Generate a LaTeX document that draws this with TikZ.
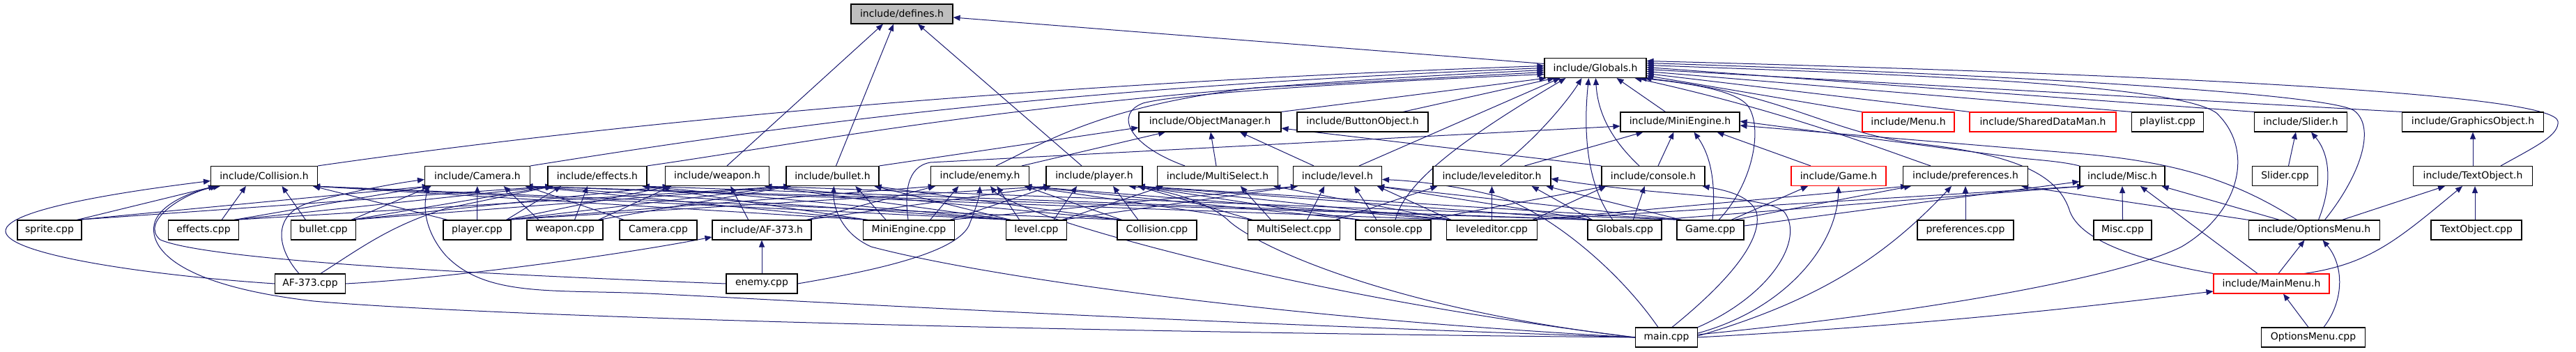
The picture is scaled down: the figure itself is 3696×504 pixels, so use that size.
\documentclass[tikz,border=0pt]{standalone}
\usepackage{fontspec}
\setmainfont{DejaVu Sans}
\usetikzlibrary{arrows.meta,calc}
\definecolor{edgeblue}{HTML}{191970}
\definecolor{boxgray}{HTML}{BFBFBF}
\pgfdeclarelayer{bg}
\pgfdeclarelayer{edges}
\pgfsetlayers{bg,edges,main}
\tikzset{
  box/.style={draw=black, line width=1.1pt, fill=white, minimum height=28pt, inner sep=0pt, font=\fontsize{14}{16}\selectfont},
  redbox/.style={box, draw=red},
  edge/.style={draw=edgeblue, line width=1pt, -{Triangle[length=10pt,width=8pt]}},
}
% child -> parent, spread on top/bottom edges
\newcommand\incl[3][]{\draw[edge,#1] let \p1=(#2.north), \p2=(#3.south), \p3=(#3.south east), \p4=(#2.north east),
  \n1={\x2-\x1}, \n2={\x3-\x2-7}, \n3={\x4-\x1-7} in
  ({\x1+max(-\n3,min(\n3,0.3*(\n1)))},\y1) -- ({\x2+max(-\n2,min(\n2,-0.3*(\n1)))},\y2);}
\begin{document}
\begin{tikzpicture}[x=1pt,y=1pt]
\useasboundingbox (0,0) rectangle (3696,504);
\begin{pgfonlayer}{bg}\fill[white] (0,0) rectangle (3696,504);\end{pgfonlayer}
% row 0
\node[box,fill=boxgray,minimum width=146pt] (defines) at (1294,484) {include/defines.h};
% row 1
\node[box,minimum width=146pt] (Globals) at (2289,406.5) {include/Globals.h};
% row 2
\node[box,minimum width=204pt] (ObjMgr) at (1736,329) {include/ObjectManager.h};
\node[box,minimum width=188pt] (Button) at (1955,329) {include/ButtonObject.h};
\node[box,minimum width=171pt] (MiniEh) at (2410.5,329) {include/MiniEngine.h};
\node[redbox,minimum width=132pt] (Menuh) at (2738,329) {include/Menu.h};
\node[redbox,minimum width=210pt] (Shared) at (2931,329) {include/SharedDataMan.h};
\node[box,minimum width=103pt] (playlist) at (3110,329) {playlist.cpp};
\node[box,minimum width=133pt] (Sliderh) at (3301,329) {include/Slider.h};
\node[box,minimum width=203pt] (GraphObj) at (3548,329) {include/GraphicsObject.h};
% row 3
\node[box,minimum width=153pt] (Collh) at (379,251.5) {include/Collision.h};
\node[box,minimum width=151pt] (Camh) at (685,251.5) {include/Camera.h};
\node[box,minimum width=142pt] (effh) at (857,251.5) {include/effects.h};
\node[box,minimum width=149pt] (weaph) at (1029,251.5) {include/weapon.h};
\node[box,minimum width=133pt] (bullh) at (1194.5,251.5) {include/bullet.h};
\node[box,minimum width=141pt] (enemyh) at (1406,251.5) {include/enemy.h};
\node[box,minimum width=138pt] (playerh) at (1570,251.5) {include/player.h};
\node[box,minimum width=173pt] (MSh) at (1747,251.5) {include/MultiSelect.h};
\node[box,minimum width=127pt] (levelh) at (1919,251.5) {include/level.h};
\node[box,minimum width=169pt] (ledh) at (2140.5,251.5) {include/leveleditor.h};
\node[box,minimum width=148pt] (consh) at (2372,251.5) {include/console.h};
\node[redbox,minimum width=136pt] (Gameh) at (2638,251.5) {include/Game.h};
\node[box,minimum width=179pt] (prefh) at (2820,251.5) {include/preferences.h};
\node[box,minimum width=122pt] (Misch) at (3045,251.5) {include/Misc.h};
\node[box,minimum width=94pt] (Slidercpp) at (3278.5,251.5) {Slider.cpp};
\node[box,minimum width=171pt] (TOh) at (3548,251.5) {include/TextObject.h};
% row 4
\node[box,minimum width=92pt] (spritecpp) at (71,174) {sprite.cpp};
\node[box,minimum width=101pt] (effcpp) at (292,174) {effects.cpp};
\node[box,minimum width=93pt] (bullcpp) at (464,174) {bullet.cpp};
\node[box,minimum width=97pt] (playercpp) at (684.5,174) {player.cpp};
\node[box,minimum width=109pt] (weapcpp) at (810.5,174) {weapon.cpp};
\node[box,minimum width=111pt] (Camcpp) at (944.5,174) {Camera.cpp};
\node[box,minimum width=142pt] (AFh) at (1093,174) {include/AF-373.h};
\node[box,minimum width=131pt] (MEcpp) at (1304,174) {MiniEngine.cpp};
\node[box,minimum width=87pt] (levelcpp) at (1487,174) {level.cpp};
\node[box,minimum width=114pt] (Collcpp) at (1660,174) {Collision.cpp};
\node[box,minimum width=132pt] (MScpp) at (1856.5,174) {MultiSelect.cpp};
\node[box,minimum width=108pt] (conscpp) at (1999,174) {console.cpp};
\node[box,minimum width=130pt] (ledcpp) at (2140.5,174) {leveleditor.cpp};
\node[box,minimum width=106pt] (Globcpp) at (2331,174) {Globals.cpp};
\node[box,minimum width=96pt] (Gamecpp) at (2454,174) {Game.cpp};
\node[box,minimum width=138pt] (prefcpp) at (2820,174) {preferences.cpp};
\node[box,minimum width=83pt] (Misccpp) at (3045.5,174) {Misc.cpp};
\node[box,minimum width=188pt] (OMh) at (3320.5,174) {include/OptionsMenu.h};
\node[box,minimum width=130pt] (TOcpp) at (3553,174) {TextObject.cpp};
% row 5
\node[box,minimum width=101pt] (AFcpp) at (445,97) {AF-373.cpp};
\node[box,minimum width=102pt] (enemycpp) at (1093,97) {enemy.cpp};
\node[redbox,minimum width=166pt] (MMh) at (3259,97) {include/MainMenu.h};
% row 6
\node[box,minimum width=89pt] (maincpp) at (2391,20) {main.cpp};
\node[box,minimum width=149pt] (OMcpp) at (3319,20) {OptionsMenu.cpp};

\begin{pgfonlayer}{edges}
% defines.h
\draw[edge] ([yshift=6pt]Globals.west) -- ([yshift=-5pt]defines.east);
\draw[edge] ([xshift=14pt]weaph.north) -- ([xshift=-27pt]defines.south);
\draw[edge] ([xshift=5pt]bullh.north) -- ([xshift=-12pt]defines.south);
\draw[edge] ([xshift=-18pt]playerh.north) -- ([xshift=23pt]defines.south);
% Globals.h from the left
\draw[edge] (Collh.north east) .. controls (900,330) and (1500,385) .. ([yshift=3pt]Globals.west);
\draw[edge] (Camh.north east) .. controls (1100,320) and (1500,378) .. ([yshift=0pt]Globals.west);
\draw[edge] (effh.north east) .. controls (1200,305) and (1500,370) .. ([yshift=-3pt]Globals.west);
\draw[edge] ([xshift=23pt]enemyh.north) .. controls (1500,300) and (1580,352) .. (1800,378) -- ([yshift=-6pt]Globals.west);
\draw[edge] ([xshift=-47pt]MSh.north) .. controls (1620,295) and (1598,340) .. (1640,356) .. controls (1700,372) and (2000,388) .. ([yshift=-9pt]Globals.west);
\draw[edge] (ObjMgr.north east) -- ([xshift=3pt]Globals.south west);
\draw[edge] ([xshift=58pt]Button.north) -- ([xshift=15pt]Globals.south west);
\draw[edge] ([xshift=31pt]levelh.north) -- ([xshift=23pt]Globals.south west);
\draw[edge] ([xshift=3pt]conscpp.north) .. controls (2015,240) and (2090,300) .. ([xshift=31pt]Globals.south west);
\draw[edge] ([xshift=12pt]ledh.north) .. controls (2200,300) and (2250,360) .. ([xshift=54pt]Globals.south west);
\draw[edge] ([xshift=-17pt]Globcpp.north) .. controls (2275,240) and (2272,320) .. ([xshift=64pt]Globals.south west);
\draw[edge] ([xshift=-20pt]consh.north) .. controls (2305,310) and (2292,350) .. ([xshift=74pt]Globals.south west);
\draw[edge] ([xshift=-21pt]MiniEh.north) -- ([xshift=-43pt]Globals.south east);
% Globals.h from the right
\draw[edge] ([xshift=40pt]TOh.north) .. controls (3640,295) and (3672,310) .. (3670,330) .. controls (3665,362) and (3300,392) .. ([yshift=10pt]Globals.east);
\draw[edge] ([xshift=15pt]OMh.north) .. controls (3385,250) and (3410,320) .. (3378,345) .. controls (3340,372) and (2800,400) .. ([yshift=7pt]Globals.east);
\draw[edge] ([yshift=4pt]maincpp.east) .. controls (2800,60) and (3050,110) .. (3130,150) .. controls (3215,200) and (3235,290) .. (3180,342) .. controls (3120,385) and (2700,398) .. ([yshift=4pt]Globals.east);
\draw[edge] (Sliderh.north west) -- ([yshift=1pt]Globals.east);
\draw[edge] (GraphObj.north west) -- ([yshift=-2pt]Globals.east);
\draw[edge] (playlist.north west) -- ([yshift=-5pt]Globals.east);
\draw[edge] (Shared.north west) -- ([yshift=-8pt]Globals.east);
\draw[edge] (Menuh.north west) -- ([yshift=-11pt]Globals.east);
\draw[edge] (MMh.north west) .. controls (3100,125) and (2990,150) .. (2970,200) .. controls (2955,250) and (2900,282) .. (2750,298) .. controls (2620,315) and (2560,370) .. ([xshift=-3pt]Globals.south east);
\draw[edge] ([xshift=12pt]Gamecpp.north) .. controls (2515,240) and (2530,320) .. (2508,352) .. controls (2490,375) and (2420,385) .. ([xshift=-10pt]Globals.south east);
\draw[edge] ([xshift=-50pt]prefh.north) .. controls (2700,290) and (2560,345) .. ([xshift=-17pt]Globals.south east);
% ObjectManager.h
\draw[edge] (bullh.north east) -- ([yshift=-8pt]ObjMgr.west);
\draw[edge] ([xshift=60pt]enemyh.north) -- ([xshift=-64pt]ObjMgr.south);
\draw[edge] ([xshift=-2pt]MSh.north) -- ([xshift=1pt]ObjMgr.south);
\draw[edge] ([xshift=-34pt]levelh.north) -- ([xshift=43pt]ObjMgr.south);
\draw[edge] (consh.north west) -- ([yshift=-9pt]ObjMgr.east);
% MiniEngine.h
\draw[edge] ([xshift=-1pt]MEcpp.north) .. controls (1298,225) and (1300,265) .. (1335,271) -- ([yshift=-6pt]MiniEh.west);
\draw[edge] ([xshift=47pt]ledh.north) -- ([xshift=-53pt]MiniEh.south);
\draw[edge] ([xshift=7pt]consh.north) -- ([xshift=-9pt]MiniEh.south);
\draw[edge] ([xshift=-40pt]Gameh.north) -- ([xshift=53pt]MiniEh.south);
\draw[edge] ([xshift=3pt]Gamecpp.north) .. controls (2462,240) and (2455,280) .. ([xshift=20pt]MiniEh.south);
\draw[edge] (Misch.north west) .. controls (2960,272) and (2930,274) .. (2900,277) -- ([yshift=1pt]MiniEh.east);
\draw[edge] ([xshift=-25pt]OMh.north) .. controls (3200,250) and (3110,272) .. (2990,283) -- ([yshift=-5pt]MiniEh.east);
% right cluster
\draw[edge] (prefcpp.north) -- (prefh.south);
\draw[edge] (Misccpp.north) -- (Misch.south);
\draw[edge] ([xshift=-2pt]TOcpp.north) -- ([xshift=3pt]TOh.south);
\draw[edge] (TOh.north) -- (GraphObj.south);
\draw[edge] ([xshift=5pt]Slidercpp.north) -- ([xshift=-7pt]Sliderh.south);
\draw[edge] ([xshift=6pt]OMh.north) .. controls (3345,235) and (3345,280) .. ([xshift=15pt]Sliderh.south);
\draw[edge] ([xshift=-50pt]OMh.north) -- ([xshift=-5pt]Misch.south east);
\draw[edge] ([xshift=40pt]OMh.north) -- ([xshift=-40pt]TOh.south);
\draw[edge] (OMh.north west) -- ([xshift=-10pt]prefh.south east);
\draw[edge] ([xshift=10pt]MMh.north) -- ([xshift=-14pt]OMh.south);
\draw[edge] ([xshift=-20pt]MMh.north) -- ([xshift=26pt]Misch.south);
\draw[edge] ([xshift=47pt]MMh.north) .. controls (3400,125) and (3440,160) .. ([xshift=-15pt]TOh.south);
\draw[edge] ([xshift=15pt]OMcpp.north) .. controls (3365,75) and (3362,125) .. ([xshift=12pt]OMh.south);
\draw[edge] ([xshift=-7pt]OMcpp.north) -- ([xshift=17pt]MMh.south);
% Game.cpp
\draw[edge] ([xshift=30pt]Gamecpp.north) -- ([xshift=-44pt]Gameh.south);
\draw[edge] ([xshift=34pt]Gamecpp.north) -- ([xshift=-78pt]prefh.south);
\draw[edge] ([yshift=6pt]Gamecpp.east) -- ([yshift=-8pt]Misch.west);
% AF-373 / enemy
\draw[edge] (AFcpp.west) .. controls (200,110) and (10,140) .. (8,172) .. controls (6,205) and (200,232) .. ([yshift=-7pt]Collh.west);
\draw[edge] (AFcpp.east) .. controls (650,105) and (900,140) .. ([yshift=-10pt]AFh.west);
\draw[edge] ([xshift=-16pt]AFcpp.north) .. controls (395,150) and (390,200) .. (450,215) .. controls (500,228) and (560,240) .. ([yshift=-5pt]Camh.west);
\draw[edge] ([xshift=15pt]AFcpp.north) .. controls (520,150) and (560,180) .. (640,205) -- ([xshift=8pt]effh.south west);
\draw[edge] (enemycpp.north) -- (AFh.south);
\draw[edge] (enemycpp.west) .. controls (700,110) and (300,130) .. (230,160) .. controls (200,185) and (260,225) .. ([xshift=10pt]Collh.south west);
\draw[edge] (enemycpp.east) .. controls (1250,115) and (1370,140) .. (1390,180) .. controls (1400,205) and (1405,220) .. (enemyh.south);
% main.cpp
\draw[edge] (maincpp.west) .. controls (1500,28) and (700,50) .. (450,72) .. controls (250,95) and (212,150) .. (222,185) .. controls (232,215) and (285,232) .. ([xshift=14pt]Collh.south west);
\draw[edge] (maincpp.west) .. controls (1600,45) and (1100,75) .. (950,82) .. controls (800,90) and (700,75) .. (640,137) .. controls (615,165) and (605,200) .. ([xshift=6pt]Camh.south west);
\draw[edge] (maincpp.west) .. controls (1800,50) and (1400,110) .. (1250,150) .. controls (1205,170) and (1195,210) .. ([xshift=2pt]bullh.south);
\draw[edge] (maincpp.west) .. controls (1900,75) and (1600,160) .. (1500,195) .. controls (1460,210) and (1430,225) .. ([xshift=15pt]enemyh.south);
\draw[edge] (maincpp.west) .. controls (2000,60) and (1800,150) .. (1760,190) .. controls (1730,215) and (1680,230) .. ([xshift=-20pt]playerh.south east);
\draw[edge] ([xshift=-12pt]maincpp.north) .. controls (2320,120) and (2220,200) .. (2150,222) .. controls (2080,240) and (2020,245) .. ([yshift=-5pt]levelh.east);
\draw[edge] ([xshift=8pt]maincpp.north) .. controls (2480,100) and (2530,160) .. (2520,200) .. controls (2510,225) and (2470,232) .. ([xshift=-4pt]consh.south east);
\draw[edge] (maincpp.north east) .. controls (2540,80) and (2590,160) .. (2560,200) .. controls (2530,225) and (2400,220) .. ([yshift=-4pt]ledh.east);
\draw[edge] ([yshift=6pt]maincpp.east) .. controls (2560,60) and (2635,150) .. (Gameh.south);
\draw[edge] ([yshift=2pt]maincpp.east) .. controls (2600,70) and (2700,130) .. ([xshift=-20pt]prefh.south);
\draw[edge] (maincpp.east) .. controls (2800,40) and (3000,65) .. ([yshift=-11pt]MMh.west);
% dense band
\incl{spritecpp}{Collh}
\incl{spritecpp}{Camh}
\incl{spritecpp}{effh}
\incl{effcpp}{Collh}
\incl{effcpp}{Camh}
\incl{effcpp}{effh}
\incl{effcpp}{bullh}
\incl{bullcpp}{Collh}
\incl{bullcpp}{Camh}
\incl{bullcpp}{effh}
\incl{bullcpp}{weaph}
\incl{bullcpp}{bullh}
\incl{playercpp}{Collh}
\incl{playercpp}{Camh}
\incl{playercpp}{effh}
\incl{playercpp}{weaph}
\incl{playercpp}{bullh}
\incl{playercpp}{enemyh}
\incl{playercpp}{playerh}
\incl{weapcpp}{Camh}
\incl{weapcpp}{effh}
\incl{weapcpp}{weaph}
\incl{weapcpp}{bullh}
\incl{Camcpp}{Camh}
\incl{AFh}{weaph}
\incl{AFh}{enemyh}
\incl{AFh}{playerh}
\incl{MEcpp}{Collh}
\incl{MEcpp}{Camh}
\incl{MEcpp}{effh}
\incl{MEcpp}{bullh}
\incl{MEcpp}{enemyh}
\incl{MEcpp}{playerh}
\incl{MEcpp}{levelh}
\incl{levelcpp}{Collh}
\incl{levelcpp}{Camh}
\incl{levelcpp}{effh}
\incl{levelcpp}{weaph}
\incl{levelcpp}{bullh}
\incl{levelcpp}{enemyh}
\incl{levelcpp}{playerh}
\incl{levelcpp}{MSh}
\incl{levelcpp}{levelh}
\incl{Collcpp}{Collh}
\incl{Collcpp}{weaph}
\incl{Collcpp}{bullh}
\incl{Collcpp}{enemyh}
\incl{Collcpp}{playerh}
\incl{MScpp}{enemyh}
\incl{MScpp}{playerh}
\incl{MScpp}{MSh}
\incl{MScpp}{levelh}
\incl{MScpp}{ledh}
\incl{conscpp}{enemyh}
\incl{conscpp}{playerh}
\incl{conscpp}{levelh}
\incl{conscpp}{consh}
\incl{ledcpp}{Camh}
\incl{ledcpp}{enemyh}
\incl{ledcpp}{playerh}
\incl{ledcpp}{MSh}
\incl{ledcpp}{levelh}
\incl{ledcpp}{ledh}
\incl{ledcpp}{consh}
\incl{ledcpp}{prefh}
\incl{ledcpp}{Misch}
\incl{Globcpp}{Camh}
\incl{Globcpp}{effh}
\incl{Globcpp}{playerh}
\incl{Globcpp}{levelh}
\incl{Globcpp}{ledh}
\incl{Globcpp}{consh}
\incl{Globcpp}{Misch}
\incl{Gamecpp}{weaph}
\incl{Gamecpp}{playerh}
\incl{Gamecpp}{levelh}
\incl{Gamecpp}{ledh}
\end{pgfonlayer}
\end{tikzpicture}
\end{document}
